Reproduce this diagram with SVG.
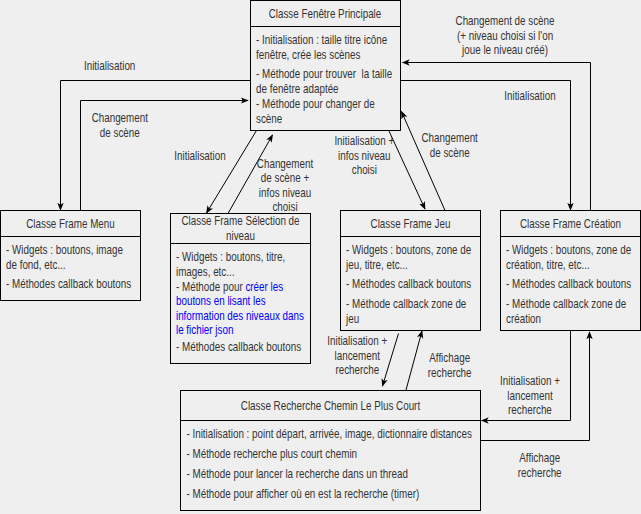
<svg xmlns="http://www.w3.org/2000/svg" width="641" height="514" viewBox="0 0 641 514">
<style>
.box{fill:none;stroke:#000;stroke-width:1}
.sep{stroke:#000;stroke-width:1}
.t{font-family:"Liberation Sans",Arial,sans-serif;font-size:12px;fill:#333}
.c{text-anchor:middle}
.b{fill:#0000ff}
.ln{fill:none;stroke:#000;stroke-width:1;marker-end:url(#arr)}
</style>
<defs>
<marker id="arr" markerUnits="userSpaceOnUse" viewBox="0 0 10 8" markerWidth="8" markerHeight="7" refX="9" refY="4" orient="auto">
<path d="M0,0 L10,4 L0,8 L2.5,4 z" fill="#000"/>
</marker>
</defs>
<rect x="0" y="0" width="641" height="514" fill="#efefef"/>

<g id="connectors">
<path class="ln" d="M250.5,80.5 H60.5 V210"/>
<path class="ln" d="M80.5,210.5 V100.5 H248"/>
<path class="ln" d="M256.5,130.5 L206.5,213"/>
<path class="ln" d="M228,213.5 L272.5,135"/>
<path class="ln" d="M389,131 L425,209"/>
<path class="ln" d="M445,210.5 L401.5,111.5"/>
<path class="ln" d="M400.5,80.5 H570.5 V210"/>
<path class="ln" d="M590.5,210.5 V62.5 H402.5"/>
<path class="ln" d="M398.5,333.5 L382.5,386"/>
<path class="ln" d="M406,390 L422,331"/>
<path class="ln" d="M570.5,330.5 V420.5 H481.5"/>
<path class="ln" d="M480.5,440.5 H589.5 V332"/>
</g>

<g id="labels">
<g transform="scale(0.82,1)">
<text class="t c" x="133.7" y="70">Initialisation</text>
<text class="t c" x="146.1" y="122">Changement</text>
<text class="t c" x="146.1" y="137">de scène</text>
<text class="t c" x="243.9" y="160">Initialisation</text>
<text class="t c" x="347.6" y="168.5">Changement</text>
<text class="t c" x="347.6" y="182.5">de scène +</text>
<text class="t c" x="347.6" y="197">infos niveau</text>
<text class="t c" x="347.6" y="211.5">choisi</text>
<text class="t c" x="444.3" y="145">Initialisation +</text>
<text class="t c" x="444.3" y="160">infos niveau</text>
<text class="t c" x="444.3" y="174">choisi</text>
<text class="t c" x="548.4" y="142">Changement</text>
<text class="t c" x="548.4" y="157">de scène</text>
<text class="t c" x="615.9" y="25">Changement de scène</text>
<text class="t c" x="615.9" y="40">(+ niveau choisi si l'on</text>
<text class="t c" x="615.9" y="54">joue le niveau créé)</text>
<text class="t c" x="646.3" y="100">Initialisation</text>
<text class="t c" x="435.7" y="345">Initialisation +</text>
<text class="t c" x="435.7" y="360">lancement</text>
<text class="t c" x="435.7" y="374">recherche</text>
<text class="t c" x="548.4" y="362.5">Affichage</text>
<text class="t c" x="548.4" y="377">recherche</text>
<text class="t c" x="646.3" y="385.5">Initialisation +</text>
<text class="t c" x="646.3" y="400">lancement</text>
<text class="t c" x="646.3" y="414">recherche</text>
<text class="t c" x="658.2" y="462">Affichage</text>
<text class="t c" x="658.2" y="477">recherche</text>
</g>
</g>

<g id="fenetre-principale">
<rect class="box" x="250.5" y="0.5" width="150" height="130"/>
<line class="sep" x1="250.5" y1="26.5" x2="400.5" y2="26.5"/>
<g transform="scale(0.82,1)">
<text class="t c" x="396.3" y="18">Classe Fenêtre Principale</text>
<text class="t" x="312.2" y="44">- Initialisation : taille titre icône</text>
<text class="t" x="312.2" y="59">fenêtre, crée les scènes</text>
<text class="t" x="312.2" y="78" xml:space="preserve">- Méthode pour trouver  la taille</text>
<text class="t" x="312.2" y="93">de fenêtre adaptée</text>
<text class="t" x="312.2" y="108">- Méthode pour changer de</text>
<text class="t" x="312.2" y="123">scène</text>
</g>
</g>

<g id="frame-menu">
<rect class="box" x="0.5" y="210.5" width="140" height="90"/>
<line class="sep" x1="0.5" y1="236.5" x2="140.5" y2="236.5"/>
<g transform="scale(0.82,1)">
<text class="t c" x="86" y="228">Classe Frame Menu</text>
<text class="t" x="7.3" y="254.5">- Widgets : boutons, image</text>
<text class="t" x="7.3" y="269.5">de fond, etc...</text>
<text class="t" x="7.3" y="288.5">- Méthodes callback boutons</text>
</g>
</g>

<g id="frame-selection">
<rect class="box" x="170.5" y="213.5" width="140" height="150"/>
<line class="sep" x1="170.5" y1="243.5" x2="310.5" y2="243.5"/>
<g transform="scale(0.82,1)">
<text class="t c" x="293.3" y="225">Classe Frame Sélection de</text>
<text class="t c" x="293.3" y="240">niveau</text>
<text class="t" x="214.6" y="261">- Widgets : boutons, titre,</text>
<text class="t" x="214.6" y="276">images, etc...</text>
<text class="t" x="214.6" y="291">- Méthode pour <tspan class="b">créer les</tspan></text>
<text class="t b" x="214.6" y="305.5">boutons en lisant les</text>
<text class="t b" x="214.6" y="320">information des niveaux dans</text>
<text class="t b" x="214.6" y="334.5">le fichier json</text>
<text class="t" x="214.6" y="351">- Méthodes callback boutons</text>
</g>
</g>

<g id="frame-jeu">
<rect class="box" x="340.5" y="210.5" width="140" height="120"/>
<line class="sep" x1="340.5" y1="236.5" x2="480.5" y2="236.5"/>
<g transform="scale(0.82,1)">
<text class="t c" x="500.6" y="228">Classe Frame Jeu</text>
<text class="t" x="422" y="254">- Widgets : boutons, zone de</text>
<text class="t" x="422" y="269">jeu, titre, etc...</text>
<text class="t" x="422" y="288">- Méthodes callback boutons</text>
<text class="t" x="422" y="308">- Méthode callback zone de</text>
<text class="t" x="422" y="323">jeu</text>
</g>
</g>

<g id="frame-creation">
<rect class="box" x="500.5" y="210.5" width="140" height="120"/>
<line class="sep" x1="500.5" y1="236.5" x2="640.5" y2="236.5"/>
<g transform="scale(0.82,1)">
<text class="t c" x="695.7" y="228">Classe Frame Création</text>
<text class="t" x="617.1" y="254">- Widgets : boutons, zone de</text>
<text class="t" x="617.1" y="269">création, titre, etc...</text>
<text class="t" x="617.1" y="288">- Méthodes callback boutons</text>
<text class="t" x="617.1" y="308">- Méthode callback zone de</text>
<text class="t" x="617.1" y="323">création</text>
</g>
</g>

<g id="recherche-chemin">
<rect class="box" x="180.5" y="390.5" width="300" height="120"/>
<line class="sep" x1="180.5" y1="420.5" x2="480.5" y2="420.5"/>
<g transform="scale(0.82,1)">
<text class="t c" x="403" y="410">Classe Recherche Chemin Le Plus Court</text>
<text class="t" x="227.4" y="438">- Initialisation : point départ, arrivée, image, dictionnaire distances</text>
<text class="t" x="227.4" y="458">- Méthode recherche plus court chemin</text>
<text class="t" x="227.4" y="478">- Méthode pour lancer la recherche dans un thread</text>
<text class="t" x="227.4" y="498">- Méthode pour afficher où en est la recherche (timer)</text>
</g>
</g>
</svg>
